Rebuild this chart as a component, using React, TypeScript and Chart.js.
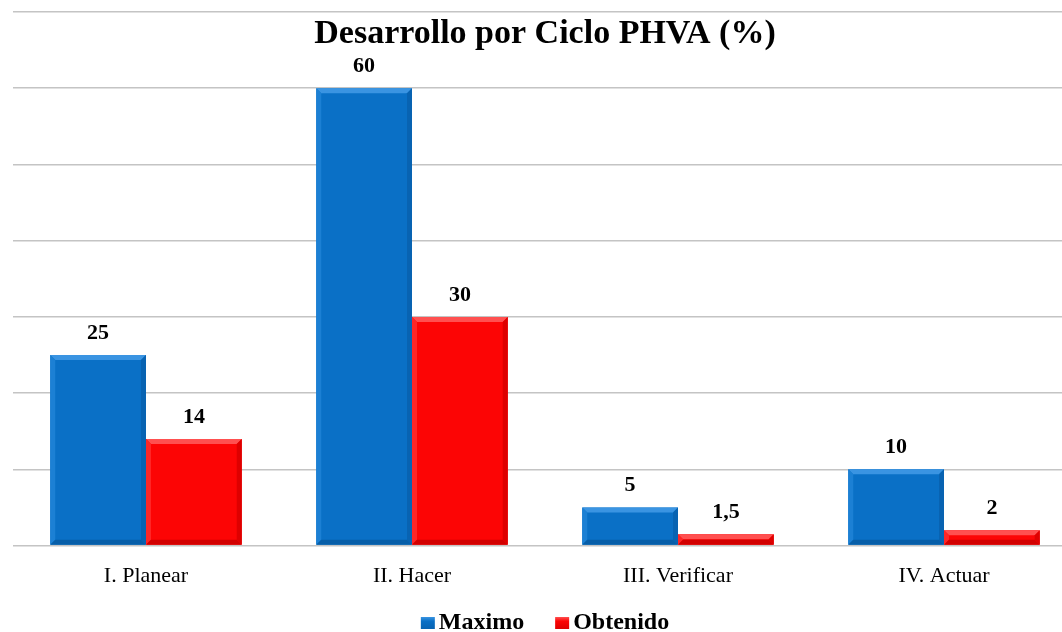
import React, { useEffect, useRef } from "react";
import { Chart, registerables } from "chart.js";

Chart.register(...registerables);

const chartTitle = "Desarrollo por Ciclo PHVA (%)";
const categories = ["I. Planear", "II. Hacer", "III. Verificar", "IV. Actuar"];
const seriesNames = ["Maximo", "Obtenido"];
const maximo = [25, 60, 5, 10];
const obtenido = [14, 30, 1.5, 2];
const yMax = 70;
const yStep = 10;

const SERIF = "'Liberation Serif', 'Times New Roman', serif";
const BLUE = { main: "#0a70c6", light: "#3a94e2", lightSide: "#1c80d4", dark: "#0863b2", darker: "#075ea8" };
const RED = { main: "#fc0505", light: "#ff5050", lightSide: "#ff2626", dark: "#de0000", darker: "#d20000" };
const palettes = [BLUE, RED];

function shade(ctx: CanvasRenderingContext2D, pts: number[][], color: string) {
  ctx.beginPath();
  ctx.moveTo(pts[0][0], pts[0][1]);
  for (let i = 1; i < pts.length; i++) ctx.lineTo(pts[i][0], pts[i][1]);
  ctx.closePath();
  ctx.fillStyle = color;
  ctx.fill();
}

const bevelPlugin = {
  id: "bevel",
  afterDatasetsDraw(chart: any) {
    const ctx = chart.ctx as CanvasRenderingContext2D;
    chart.data.datasets.forEach((ds: any, di: number) => {
      const meta = chart.getDatasetMeta(di);
      const p = palettes[di];
      meta.data.forEach((bar: any, i: number) => {
        const { x, y, width, base } = bar.getProps(["x", "y", "width", "base"], true);
        const l = x - width / 2;
        const r = x + width / 2;
        const t = y;
        const b = base;
        const h = b - t;
        const bv = Math.min(5, h / 2);
        ctx.save();
        shade(ctx, [[l, t], [r, t], [r - bv, t + bv], [l + bv, t + bv]], p.light);
        shade(ctx, [[l, t], [l + bv, t + bv], [l + bv, b - bv], [l, b]], p.lightSide);
        shade(ctx, [[r, t], [r, b], [r - bv, b - bv], [r - bv, t + bv]], p.dark);
        shade(ctx, [[l, b], [r, b], [r - bv, b - bv], [l + bv, b - bv]], p.darker);
        ctx.restore();
        const v = ds.data[i];
        ctx.save();
        ctx.font = `bold 22px ${SERIF}`;
        ctx.fillStyle = "#000";
        ctx.textAlign = "center";
        ctx.textBaseline = "middle";
        ctx.fillText(String(v).replace(".", ","), x, t - 22);
        ctx.restore();
      });
    });
  },
  afterDraw(chart: any) {
    const ctx = chart.ctx as CanvasRenderingContext2D;
    const cx = chart.width / 2;
    ctx.save();
    ctx.fillStyle = "#000";
    ctx.textAlign = "center";
    ctx.textBaseline = "alphabetic";
    ctx.font = `bold 34px ${SERIF}`;
    ctx.fillText(chartTitle, cx, 43);
    ctx.font = `bold 24px ${SERIF}`;
    const boxW = 14;
    const boxH = 12;
    const gapBoxText = 4;
    const gapItems = 31;
    const widths = seriesNames.map((n) => boxW + gapBoxText + ctx.measureText(n).width);
    const total = widths.reduce((a, w) => a + w, 0) + gapItems * (seriesNames.length - 1);
    let lx = cx - total / 2;
    const baseline = 629;
    seriesNames.forEach((n, i) => {
      const p = palettes[i];
      const by = baseline - boxH;
      const g = ctx.createLinearGradient(0, by, 0, by + boxH);
      g.addColorStop(0, p.light);
      g.addColorStop(0.35, p.main);
      g.addColorStop(1, p.dark);
      ctx.fillStyle = g;
      ctx.fillRect(lx, by, boxW, boxH);
      ctx.fillStyle = "#000";
      ctx.textAlign = "left";
      ctx.fillText(n, lx + boxW + gapBoxText, baseline);
      lx += widths[i] + gapItems;
    });
    ctx.restore();
  },
};

export default function App() {
  const ref = useRef<HTMLCanvasElement | null>(null);
  useEffect(() => {
    if (!ref.current) return;
    const chart = new Chart(ref.current, {
      type: "bar",
      data: {
        labels: categories,
        datasets: [
          { label: seriesNames[0], data: maximo, backgroundColor: BLUE.main, borderWidth: 0 },
          { label: seriesNames[1], data: obtenido, backgroundColor: RED.main, borderWidth: 0 },
        ],
      },
      options: {
        responsive: false,
        animation: false,
        devicePixelRatio: 1,
        layout: { padding: { top: 12, left: 13, right: 13, bottom: 26 } },
        datasets: { bar: { categoryPercentage: 0.72, barPercentage: 1 } },
        plugins: { legend: { display: false }, title: { display: false }, tooltip: { enabled: false } },
        scales: {
          x: {
            grid: { display: false, drawTicks: false },
            border: { display: false },
            ticks: { font: { family: SERIF, size: 22 }, color: "#000", padding: 17 },
          },
          y: {
            min: 0,
            max: yMax,
            ticks: { display: false, stepSize: yStep },
            grid: { color: "#c4c4c4", lineWidth: 1.5, drawTicks: false },
            border: { display: false },
          },
        },
      },
      plugins: [bevelPlugin],
    });
    return () => chart.destroy();
  }, []);
  return (
    <div style={{ position: "fixed", left: 0, top: 0, width: 1062, height: 632, overflow: "hidden", background: "#fff" }}>
      <canvas ref={ref} width={1090} height={632} style={{ display: "block" }} />
    </div>
  );
}
